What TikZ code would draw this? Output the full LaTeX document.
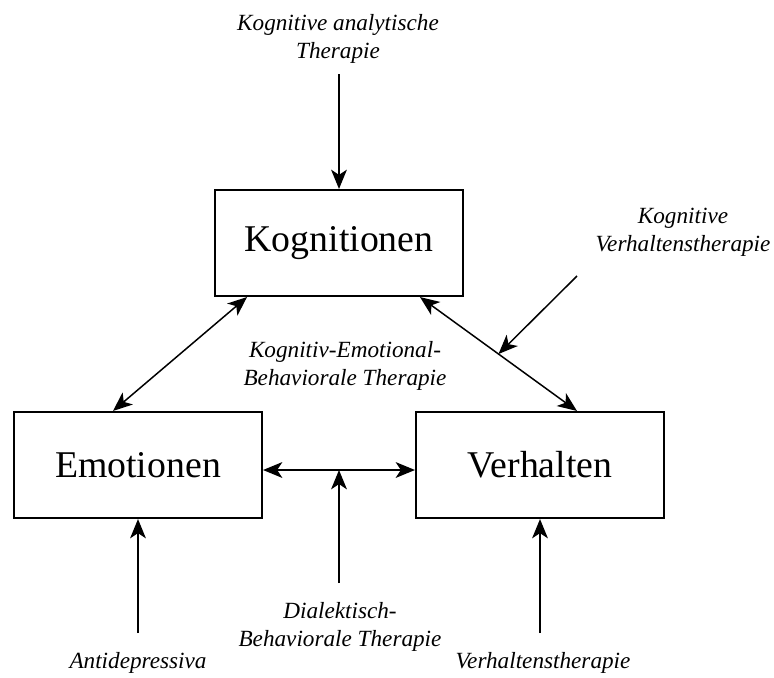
\documentclass[tikz,border=0pt]{standalone}
\usepackage{fontspec}
\setmainfont{Liberation Serif}
\usetikzlibrary{arrows.meta}
\begin{document}
\begin{tikzpicture}[x=0.02cm,y=-0.02cm,
komp/.style={draw=black,line width=1.2pt,minimum width=4.96cm,minimum height=2.12cm,inner sep=0pt,font=\fontsize{21.5}{26}\selectfont},
ther/.style={align=center,inner sep=0pt,font=\fontsize{13.2}{15.9}\selectfont\itshape},
arr/.style={line width=0.85pt,-{Stealth[length=11pt,width=9pt,inset=3pt]}},
biarr/.style={line width=0.85pt,{Stealth[length=11pt,width=9pt,inset=3pt]}-{Stealth[length=11pt,width=9pt,inset=3pt]}}]
\useasboundingbox (0,0) rectangle (774,677);
% die drei Komponenten
\node[komp] (K) at (339,243) {Kognitionen};
\node[komp] (E) at (138,465) {Emotionen};
\node[komp] (V) at (540,465) {Verhalten};
% Therapien
\node[ther] (KAT) at (338,39) {Kognitive analytische\\Therapie};
\node[ther] (KVT) at (683,232) {Kognitive\\Verhaltenstherapie};
\node[ther] (KEBT) at (345,366) {Kognitiv-Emotional-\\Behaviorale Therapie};
\node[ther] (DBT) at (340,627) {Dialektisch-\\Behaviorale Therapie};
\node[ther] (AD) at (138,663) {Antidepressiva};
\node[ther] (VT) at (543,663) {Verhaltenstherapie};
% freie Enden
\coordinate (KATa) at (339,74);
\coordinate (KVTa) at (577,276);
\coordinate (DBTa) at (339,583);
\coordinate (ADa) at (138,633);
\coordinate (VTa) at (540,633);
% Wechselwirkungen
\draw[biarr] ([xshift=-1.84cm]K.south) -- ([xshift=-0.5cm]E.north);
\draw[biarr] ([xshift=1.62cm]K.south) -- coordinate[midway] (KVm) ([xshift=0.74cm]V.north);
\draw[biarr] ([yshift=-0.1cm]E.east) -- coordinate[midway] (EVm) ([yshift=-0.1cm]V.west);
% Ansatzpunkte
\draw[arr] (KATa) -- (K.north);
\draw[arr] (KVTa) -- (KVm);
\draw[arr] (DBTa) -- (EVm);
\draw[arr] (ADa) -- (E.south);
\draw[arr] (VTa) -- (V.south);
\end{tikzpicture}
\end{document}
